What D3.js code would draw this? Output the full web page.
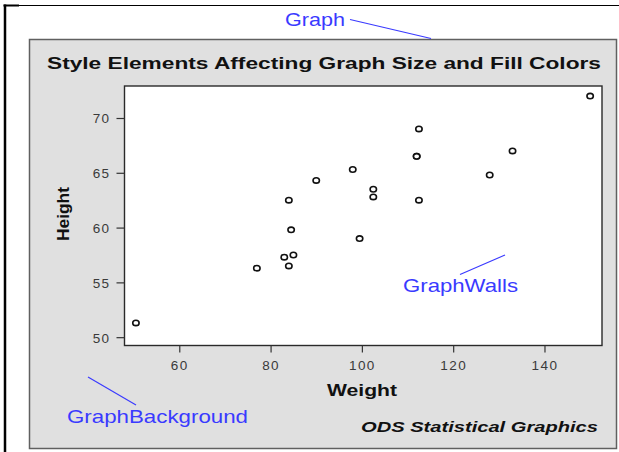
<!DOCTYPE html>
<html>
<head>
<meta charset="utf-8">
<script src="https://cdn.jsdelivr.net/npm/d3@7"></script>
<style>
  html, body { margin: 0; padding: 0; background: #ffffff; }
  svg { display: block; }
</style>
</head>
<body>
<script>
// ---- Data (SASHELP.CLASS) ----
const names   = ["Alfred","Alice","Barbara","Carol","Henry","James","Jane","Janet","Jeffrey","John","Joyce","Judy","Louise","Mary","Philip","Robert","Ronald","Thomas","William"];
const weights = [112.5, 84.0, 98.0, 102.5, 102.5, 83.0, 84.5, 112.5, 84.0, 99.5, 50.5, 90.0, 77.0, 112.0, 150.0, 128.0, 133.0, 85.0, 112.0];
const heights = [69.0, 56.5, 65.3, 62.8, 63.5, 57.3, 59.8, 62.5, 62.5, 59.0, 51.3, 64.3, 56.3, 66.5, 72.0, 64.8, 67.0, 57.5, 66.5];
const xTicks = [60, 80, 100, 120, 140];
const yTicks = [50, 55, 60, 65, 70];
const titleText = "Style Elements Affecting Graph Size and Fill Colors";
const xLabel = "Weight";
const yLabel = "Height";
const footText = "ODS Statistical Graphics";

const W = 619, H = 452;
const FONT = "Arial, 'Liberation Sans', Helvetica, sans-serif";
const svg = d3.select("body").append("svg").attr("width", W).attr("height", H);

// page background and frame
svg.append("rect").attr("x",0).attr("y",0).attr("width",W).attr("height",H).attr("fill","#ffffff");
svg.append("line").attr("x1",4).attr("x2",619).attr("y1",5.5).attr("y2",5.5).attr("stroke","#000").attr("stroke-width",1);
svg.append("line").attr("x1",3.5).attr("x2",19).attr("y1",5.5).attr("y2",5.5).attr("stroke","#000").attr("stroke-width",2);
svg.append("line").attr("x1",5).attr("x2",5).attr("y1",4.5).attr("y2",H).attr("stroke","#000").attr("stroke-width",2.5);

// graph background panel
svg.append("rect").attr("x",29.5).attr("y",39.5).attr("width",587).attr("height",409)
  .attr("fill","#e0e0e0").attr("stroke","#606060").attr("stroke-width",1.5);

// plot area
const L = 124.5, R = 602, T = 86, B = 345.5;
const x = d3.scaleLinear().domain([48.0, 152.6]).range([L, R]);
const y = d3.scaleLinear().domain([49.24, 72.92]).range([B, T]);

svg.append("rect").attr("x",L).attr("y",T).attr("width",R-L).attr("height",B-T)
  .attr("fill","#ffffff").attr("stroke","#2a2a2a").attr("stroke-width",1.4);

// axes
const gx = svg.append("g").attr("transform",`translate(0,${B})`)
  .call(d3.axisBottom(x).tickValues(xTicks).tickSize(7).tickPadding(8).tickFormat(d3.format("d")));
const gy = svg.append("g").attr("transform",`translate(${L},0)`)
  .call(d3.axisLeft(y).tickValues(yTicks).tickSize(8).tickPadding(6).tickFormat(d3.format("d")));
[gx, gy].forEach(g => {
  g.select(".domain").remove();
  g.selectAll(".tick line").attr("stroke","#333333").attr("stroke-width",1.2);
  g.selectAll(".tick text").attr("fill","#3a3a3a").style("font-family",FONT)
    .style("font-size","13.5px").style("letter-spacing","1.4px");
});
gy.selectAll(".tick text").attr("dy","0.36em");

// points
svg.append("g").selectAll("ellipse").data(weights.map((w,i)=>({w, h: heights[i], n: names[i]})))
  .join("ellipse")
  .attr("cx", d => x(d.w)).attr("cy", d => y(d.h)).attr("rx", 3.2).attr("ry", 2.7)
  .attr("fill","#ffffff").attr("stroke","#111111").attr("stroke-width",1.6);

// title
svg.append("text").attr("x",47).attr("y",68.5).text(titleText)
  .style("font-family",FONT).style("font-weight","bold").style("font-size","17px").attr("fill","#111")
  .attr("textLength",554).attr("lengthAdjust","spacingAndGlyphs");

// axis labels
svg.append("text").attr("x",327).attr("y",395.5).text(xLabel)
  .style("font-family",FONT).style("font-weight","bold").style("font-size","16px").attr("fill","#111")
  .attr("textLength",70).attr("lengthAdjust","spacingAndGlyphs");
svg.append("text").attr("transform","translate(69,241) rotate(-90)").text(yLabel)
  .style("font-family",FONT).style("font-weight","bold").style("font-size","16px").attr("fill","#111")
  .attr("textLength",54).attr("lengthAdjust","spacingAndGlyphs");

// footnote
svg.append("text").attr("x",361).attr("y",431.5).text(footText)
  .style("font-family",FONT).style("font-weight","bold").style("font-style","italic").style("font-size","15px").attr("fill","#111")
  .attr("textLength",237).attr("lengthAdjust","spacingAndGlyphs");

// annotations (blue)
const BLUE = "#3a3aff";
function note(txt, tx, ty, len, x1, y1, x2, y2) {
  svg.append("text").attr("x",tx).attr("y",ty).text(txt)
    .style("font-family",FONT).style("font-size","19px").attr("fill",BLUE)
    .attr("textLength",len).attr("lengthAdjust","spacingAndGlyphs");
  svg.append("line").attr("x1",x1).attr("y1",y1).attr("x2",x2).attr("y2",y2)
    .attr("stroke",BLUE).attr("stroke-width",1.2);
}
note("Graph", 285, 26, 60, 350, 19.5, 431, 38.5);
note("GraphWalls", 403, 292, 115, 460, 274.5, 505, 255);
note("GraphBackground", 67, 423, 181, 88, 377, 136, 405);
</script>
</body>
</html>
